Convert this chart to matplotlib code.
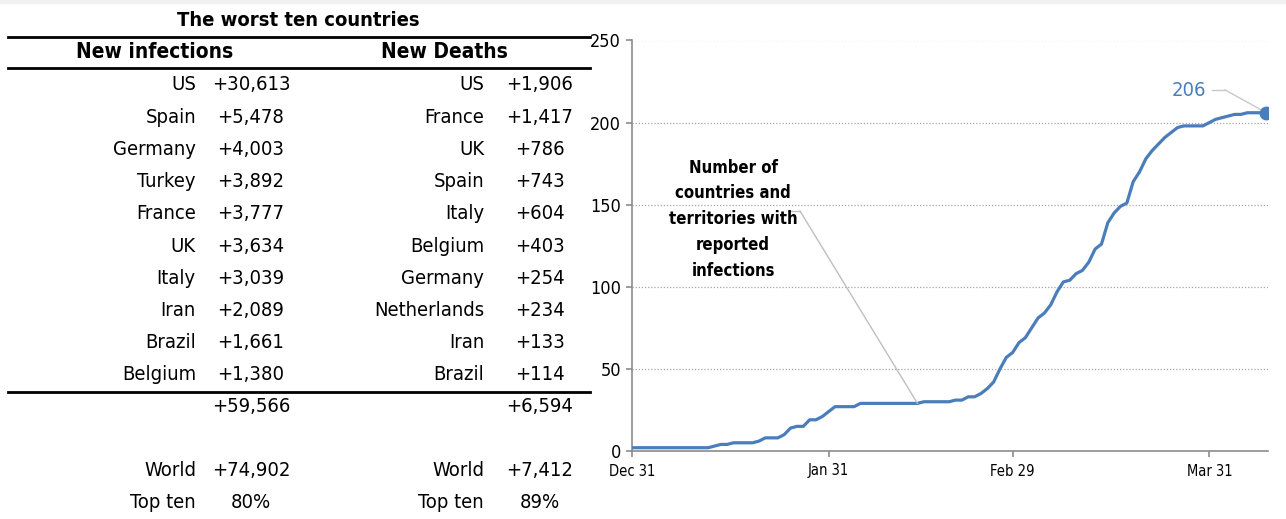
import matplotlib
matplotlib.use("Agg")
import matplotlib.pyplot as plt
from matplotlib.lines import Line2D
from matplotlib.patches import Rectangle
import pandas as pd

W, H = 1286, 519
FAM = 'DejaVu Sans'
ST = 'condensed'

# --- table data ---
inf_countries = ['US', 'Spain', 'Germany', 'Turkey', 'France', 'UK', 'Italy', 'Iran', 'Brazil', 'Belgium']
inf_values = ['+30,613', '+5,478', '+4,003', '+3,892', '+3,777', '+3,634', '+3,039', '+2,089', '+1,661', '+1,380']
death_countries = ['US', 'France', 'UK', 'Spain', 'Italy', 'Belgium', 'Germany', 'Netherlands', 'Iran', 'Brazil']
death_values = ['+1,906', '+1,417', '+786', '+743', '+604', '+403', '+254', '+234', '+133', '+114']
inf_total, death_total = '+59,566', '+6,594'
inf_world, death_world = '+74,902', '+7,412'
inf_share, death_share = '80%', '89%'

# --- chart data: countries and territories with reported infections, daily from Dec 31 ---
counts = [2, 2, 2, 2, 2, 2, 2, 2, 2, 2, 2, 2, 2, 3, 4, 4, 5, 5, 5, 5,
          6, 8, 8, 8, 10, 14, 15, 15, 19, 19, 21, 24, 27, 27, 27, 27, 29, 29, 29, 29,
          29, 29, 29, 29, 29, 29, 30, 30, 30, 30, 30, 31, 31, 33, 33, 35, 38, 42, 50, 57,
          60, 66, 69, 75, 81, 84, 89, 97, 103, 104, 108, 110, 115, 123, 126, 139, 145, 149, 151, 164,
          170, 178, 183, 187, 191, 194, 197, 198, 198, 198, 198, 200, 202, 203, 204, 205, 205, 206, 206, 206,
          206]
dates = pd.date_range('2019-12-31', periods=len(counts), freq='D')
tick_dates = pd.to_datetime(['2019-12-31', '2020-01-31', '2020-02-29', '2020-03-31'])
tick_labels = ['Dec 31', 'Jan 31', 'Feb 29', 'Mar 31']

blue = '#4a7ebb'
grey = '#8c8c8c'


def px(x, y):
    return x / W, 1 - y / H


def put(x, y, s, ha, **kw):
    kw.setdefault('fontsize', 14.5)
    fig.text(*px(x, y), s, ha=ha, va='center', family=FAM, fontstretch=ST, **kw)


fig = plt.figure(figsize=(W / 100, H / 100), dpi=100)
fig.patches.append(Rectangle((0, 1 - 3 / H), 1, 3 / H, transform=fig.transFigure,
                             color='#f0f0f0', zorder=0))

# table
put(298, 20, 'The worst ten countries', 'center', fontsize=14.5, fontweight='bold')
put(155, 52, 'New infections', 'center', fontsize=15, fontweight='bold')
put(444, 52, 'New Deaths', 'center', fontsize=15, fontweight='bold')
for yy in (37, 68, 392):
    fig.add_artist(Line2D([8 / W, 590 / W], [1 - yy / H] * 2, transform=fig.transFigure,
                          color='black', lw=2))

row_y = [85 + i * 32.2 for i in range(10)]
for i in range(10):
    put(196, row_y[i], inf_countries[i], 'right')
    put(251, row_y[i], inf_values[i], 'center')
    put(484, row_y[i], death_countries[i], 'right')
    put(540, row_y[i], death_values[i], 'center')

put(251, 407, inf_total, 'center')
put(540, 407, death_total, 'center')
for yy, a, b, c in [(471, 'World', inf_world, death_world), (503, 'Top ten', inf_share, death_share)]:
    put(196, yy, a, 'right')
    put(251, yy, b, 'center')
    put(484, yy, a, 'right')
    put(540, yy, c, 'center')

# chart
ax = fig.add_axes([632 / W, 1 - 451 / H, 636 / W, 410.5 / H])
ax.plot(dates, counts, color=blue, lw=2.3, solid_capstyle='butt', zorder=3)
ax.plot(dates[-1], counts[-1], 'o', color=blue, ms=9, zorder=4)

ax.set_ylim(0, 250)
ax.set_xlim(dates[0], dates[-1] + pd.Timedelta(hours=6))
ax.set_yticks([0, 50, 100, 150, 200, 250])
ax.set_xticks(tick_dates)
ax.set_xticklabels(tick_labels)
for v in [50, 100, 150, 200, 250]:
    ax.axhline(v, color='#a6a6a6', lw=0.9, ls=(0, (1, 1.5)), zorder=1)

for s in ('top', 'right'):
    ax.spines[s].set_visible(False)
for s in ('left', 'bottom'):
    ax.spines[s].set_color(grey)
    ax.spines[s].set_linewidth(1.2)
ax.tick_params(colors=grey, length=4, width=1.2, labelcolor='black')
ax.tick_params(axis='x', pad=5, labelsize=10.5)
ax.tick_params(axis='y', pad=4, labelsize=13)
for lab in ax.get_xticklabels() + ax.get_yticklabels():
    lab.set_family(FAM)
    lab.set_fontstretch(ST)

# annotations
ax.text(0.159, 0.585 + 0.127, 'Number of\ncountries and\nterritories with\nreported\ninfections',
        transform=ax.transAxes, ha='center', va='top', fontsize=12, fontweight='bold',
        family=FAM, fontstretch=ST, linespacing=1.55)
ax.add_line(Line2D([0.248, 0.264], [0.585, 0.585], transform=ax.transAxes, color='#bfbfbf', lw=1))
ax.annotate('', xy=(dates[45], counts[45]), xytext=(0.264, 0.585), textcoords='axes fraction',
            arrowprops=dict(arrowstyle='-', color='#bfbfbf', lw=1, shrinkA=0, shrinkB=0))

ax.text(0.876, 0.878, str(counts[-1]), transform=ax.transAxes, ha='center', va='center',
        fontsize=14.5, color=blue, family=FAM, fontstretch=ST)
ax.add_line(Line2D([0.912, 0.932], [0.880, 0.880], transform=ax.transAxes, color='#c8c8c8', lw=1))
ax.annotate('', xy=(dates[-1], counts[-1]), xytext=(0.932, 0.880), textcoords='axes fraction',
            arrowprops=dict(arrowstyle='-', color='#c8c8c8', lw=1, shrinkA=0, shrinkB=5))

fig.savefig('out.png', dpi=100)
